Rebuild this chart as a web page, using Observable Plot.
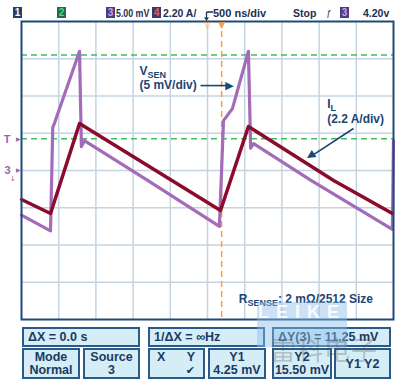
<!DOCTYPE html>
<html><head><meta charset="utf-8">
<script src="https://cdn.jsdelivr.net/npm/d3@7"></script>
<script src="https://cdn.jsdelivr.net/npm/@observablehq/plot@0.6"></script>
<style>
body{margin:0;background:#fff;font-family:"Liberation Sans",Arial,sans-serif;}
#wrap{position:relative;width:401px;height:388px;overflow:hidden;background:#fff}
#chart{position:absolute;left:0;top:0}
.abs{position:absolute;white-space:nowrap}
.tb{font-weight:bold;font-size:11px;color:#1b2f52;line-height:12px;top:7px}
.chbox{position:absolute;top:7px;width:9px;height:11px;font-weight:bold;font-size:10px;line-height:11px;text-align:center}
.panel{position:absolute;box-sizing:border-box;border:2px solid #2b5a86;background:#d5edf6;color:#1a3a63;font-weight:bold;font-size:12.5px;line-height:13px;white-space:nowrap}
</style></head>
<body>
<div id="wrap">
  <div id="chart"></div>
</div>
<script>
// ---------------- data ----------------
const nsPerDiv = 500;          // 500 ns/div
const mvPerDiv = 5;            // channel 3: 5.00 mV/div
const ampPerDiv = 2.2;         // channel 4: 2.20 A/div
const timeDomainNs = [0, 5000];
const vDomainMv = [-20, 20];

// V_SEN (channel 3, mV) vs time (ns)
const vsenTimeNs = [0, 390, 420, 445, 780, 805, 845, 1690, 2660, 2715, 2835, 3050, 3080, 3120, 3885, 4985, 5000];
const vsenMv     = [-6.0, -8.1, 5.8, 6.4, 16.0, 3.2, 4.0, -1.3, -7.5, 6.7, 8.3, 16.0, 3.0, 3.6, -1.3, -7.9, 4.0];

// I_L (channel 4, A, relative to screen centre) vs time (ns)
const ilTimeNs = [0, 390, 780, 2675, 3050, 4195, 4985];
const ilAmp    = [-1.71, -2.54, 2.78, -2.36, 2.60, -0.59, -2.54];

// cursors / trigger
const cursorYmV = [4.25, 15.50];
const cursorXns = 2690;
const delayRefNs = 2500;
const triggerLevelMv = 4.20;
const ch3GroundMv = 0;

// header labels
const headerChannels = ["1", "2", "3", "4"];
const ch3Scale = "5.00 mV";
const ch4Scale = "2.20 A/";
const timebase = "500 ns/div";
const runState = "Stop";
const trigSource = "3";
const trigLevelLabel = "4.20v";

// annotations
const annotText = ["V_{SEN}", "(5 mV/div)", "I_{L}", "(2.2 A/div)", "R_{SENSE}: 2 mΩ/2512 Size"];
const annotTimeNs = [1585, 1585, 4108, 4108, 2921];
const annotMv = [13.3, 11.4, 8.86, 6.85, -17.3];
// arrows: start (ns,mV) -> head (ns,mV), head angle (deg)
const arrowStartNs = [2406, 4462];
const arrowStartMv = [11.4, 5.64];
const arrowHeadNs = [2796, 3890];
const arrowHeadMv = [11.4, 1.9];
const arrowHeadAngle = [0, 147];

// measurement panel
const deltaXs = "0.0 s";
const invDeltaX = "∞Hz";
const triggerMode = "Normal";
const sourceCh = "3";

// watermark
const watermarkLatin = "LEIKE";
const watermarkCjk = "雷科电子";

// ---------------- build ----------------
const purple = "#a36cb9", wine = "#8b0b2d", navy = "#1b4675", orange = "#f3a04a";
const vsen = vsenTimeNs.map((t, i) => ({t, v: vsenMv[i]}));
const il = ilTimeNs.map((t, i) => ({t, v: ilAmp[i] / ampPerDiv * mvPerDiv}));
const xTicks = d3.range(timeDomainNs[0] + nsPerDiv, timeDomainNs[1], nsPerDiv);
const yTicks = d3.range(vDomainMv[0] + mvPerDiv, vDomainMv[1], mvPerDiv);
const annots = annotText.map((text, i) => ({text, t: annotTimeNs[i], v: annotMv[i]}));
const arrows = arrowStartNs.map((t1, i) => ({t1, v1: arrowStartMv[i], t2: arrowHeadNs[i], v2: arrowHeadMv[i], a: arrowHeadAngle[i]}));
const font = "'Liberation Sans', Arial, sans-serif";

const chart = Plot.plot({
  width: 401, height: 388,
  marginTop: 21, marginRight: 8, marginBottom: 69, marginLeft: 21,
  x: {domain: timeDomainNs, axis: null},
  y: {domain: vDomainMv, axis: null},
  style: {fontFamily: font, background: "transparent", overflow: "visible"},
  marks: [
    Plot.ruleX(xTicks, {stroke: "#c4d4e2", strokeWidth: 1.5, strokeOpacity: 1}),
    Plot.ruleY(yTicks, {stroke: "#c4d4e2", strokeWidth: 1.5, strokeOpacity: 1}),
    Plot.ruleY(cursorYmV, {stroke: "#3fbf60", strokeWidth: 1.5, strokeDasharray: "6,4"}),
    Plot.ruleX([cursorXns], {stroke: orange, strokeWidth: 1.5, strokeDasharray: "6,4"}),
    Plot.line(vsen, {x: "t", y: "v", stroke: purple, strokeWidth: 3.2, strokeLinejoin: "round"}),
    Plot.line(il, {x: "t", y: "v", stroke: wine, strokeWidth: 3.5, strokeLinejoin: "round"}),
    Plot.frame({stroke: "#1d4a78", strokeWidth: 2}),
    // top markers
    Plot.text([delayRefNs], {x: d => d, y: vDomainMv[1], text: () => "▽", lineAnchor: "top", dy: 0, fill: orange, fontSize: 9, fontFamily: "DejaVu Sans"}),
    Plot.text([cursorXns], {x: d => d, y: vDomainMv[1], text: () => "▼", lineAnchor: "top", dy: 0, fill: orange, fontSize: 9, fontFamily: "DejaVu Sans"}),
    // left markers
    Plot.text([{v: triggerLevelMv, s: "T"}, {v: ch3GroundMv, s: "3"}], {x: timeDomainNs[0], y: "v", text: "s", textAnchor: "end", dx: -11, fill: "#9a64b0", fontSize: 11, fontWeight: "bold"}),
    Plot.text([triggerLevelMv, ch3GroundMv], {x: timeDomainNs[0], y: d => d, text: () => "▶", textAnchor: "end", dx: -1, fill: "#9a64b0", fontSize: 6, fontFamily: "DejaVu Sans"}),
    Plot.text([ch3GroundMv], {x: timeDomainNs[0], y: d => d, text: () => "↓", textAnchor: "end", dx: -6, dy: 8, fill: "#9a64b0", fontSize: 7, fontFamily: "DejaVu Sans"}),
    // annotations
    Plot.text(annots, {x: "t", y: "v", text: "text", textAnchor: "start", fill: navy, fontSize: 12, fontWeight: "bold"}),
    Plot.link(arrows, {x1: "t1", y1: "v1", x2: "t2", y2: "v2", stroke: navy, strokeWidth: 1.6}),
    Plot.text(arrows, {x: "t2", y: "v2", text: () => "▶", rotate: "a", fill: navy, fontSize: 11, fontFamily: "DejaVu Sans"})
  ]
});

// subscripts: "X_{sub}" -> tspans
d3.select(chart).selectAll("text").each(function () {
  const t = this.textContent;
  if (!t.includes("_{")) return;
  const parts = t.split(/(_\{[^}]*\})/).filter(s => s);
  const sel = d3.select(this);
  sel.text(null);
  let prevSub = false;
  for (const p of parts) {
    if (p.startsWith("_{")) {
      sel.append("tspan").attr("font-size", 9).attr("dy", 3).text(p.slice(2, -1));
      prevSub = true;
    } else {
      sel.append("tspan").attr("dy", prevSub ? -3 : 0).text(p);
      prevSub = false;
    }
  }
});
document.getElementById("chart").appendChild(chart);

// ---------------- header bar ----------------
const wrap = document.getElementById("wrap");
function add(html, cls, style) {
  const d = document.createElement("div");
  d.className = cls; d.innerHTML = html; Object.assign(d.style, style); wrap.appendChild(d); return d;
}
const chStyle = [
  {bg: "#24406a", fg: "#ffffff", left: 13},
  {bg: "#1f6a50", fg: "#4fd884", left: 57},
  {bg: "#4a3c86", fg: "#c9a3ea", left: 106},
  {bg: "#3b3a6b", fg: "#ef5a3c", left: 152}
];
headerChannels.forEach((c, i) => add(c, "chbox", {left: chStyle[i].left + "px", background: chStyle[i].bg, color: chStyle[i].fg}));
add(ch3Scale, "abs tb", {left: "116px", transform: "scaleX(0.8)", transformOrigin: "left center"});
add(ch4Scale, "abs tb", {left: "163px", transform: "scaleX(0.95)", transformOrigin: "left center"});
add(timebase, "abs tb", {left: "213px"});
add(runState, "abs tb", {left: "293px", fontSize: "10.5px"});
add("ƒ", "abs tb", {left: "326px", fontStyle: "italic", fontSize: "9px", fontWeight: "normal"});
add(trigSource, "chbox", {left: "340px", background: chStyle[2].bg, color: chStyle[2].fg});
add(trigLevelLabel, "abs tb", {left: "363px", fontSize: "10.5px"});
add('<svg width="12" height="12"><path d="M3.5 2H10M3.5 2V9" stroke="#1b2f52" stroke-width="1.3" fill="none"/><path d="M1 7.5L3.5 11L6 7.5Z" fill="#1b2f52"/></svg>', "abs", {left: "203px", top: "10px", lineHeight: "0"});

// ---------------- measurement panels ----------------
const row1 = [
  {text: "ΔX = " + deltaXs, left: 22, width: 118},
  {text: "1/ΔX = " + invDeltaX, left: 148, width: 117},
  {text: "ΔY(3) = " + (cursorYmV[1] - cursorYmV[0]).toFixed(2) + " mV", left: 272, width: 119}
];
row1.forEach(p => add(p.text, "panel", {left: p.left + "px", top: "327px", width: p.width + "px", height: "20px", paddingLeft: "4px", lineHeight: "16px"}));
const row2 = [
  {l1: "Mode", l2: triggerMode, left: 22, width: 58},
  {l1: "Source", l2: sourceCh, left: 83, width: 57},
  {l1: "XY", l2: "✔", left: 148, width: 57},
  {l1: "Y1", l2: cursorYmV[0].toFixed(2) + " mV", left: 208, width: 58},
  {l1: "Y2", l2: cursorYmV[1].toFixed(2) + " mV", left: 272, width: 60},
  {l1: "Y1 Y2", l2: null, left: 334, width: 57}
];
row2.forEach(p => {
  let html;
  if (p.l1 === "XY") {
    html = '<div style="display:flex;justify-content:space-between;padding:0 8px 0 7px">X<span>Y</span></div><div style="text-align:right;padding-right:8px;font-family:DejaVu Sans;font-size:11px">' + p.l2 + '</div>';
  } else if (p.l2 === null) {
    html = '<div style="text-align:center;line-height:26px">' + p.l1 + '</div>';
  } else {
    html = '<div style="text-align:center">' + p.l1 + '</div><div style="text-align:center">' + p.l2 + '</div>';
  }
  add(html, "panel", {left: p.left + "px", top: "348px", width: p.width + "px", height: "31px", paddingTop: "1px"});
});

// ---------------- watermark ----------------
add(watermarkLatin, "abs", {left: "257px", top: "302px", width: "90px", height: "45px", background: "rgba(140,190,235,0.45)", color: "rgba(255,255,255,0.9)", fontWeight: "bold", fontSize: "18px", letterSpacing: "7px", textAlign: "center", lineHeight: "20px", paddingTop: "0px"});
add(watermarkCjk, "abs", {left: "270px", top: "334px", color: "rgba(80,80,80,0.3)", fontSize: "26px", fontFamily: "'Noto Sans CJK SC'", lineHeight: "30px", letterSpacing: "1px"});
</script>
</body></html>
